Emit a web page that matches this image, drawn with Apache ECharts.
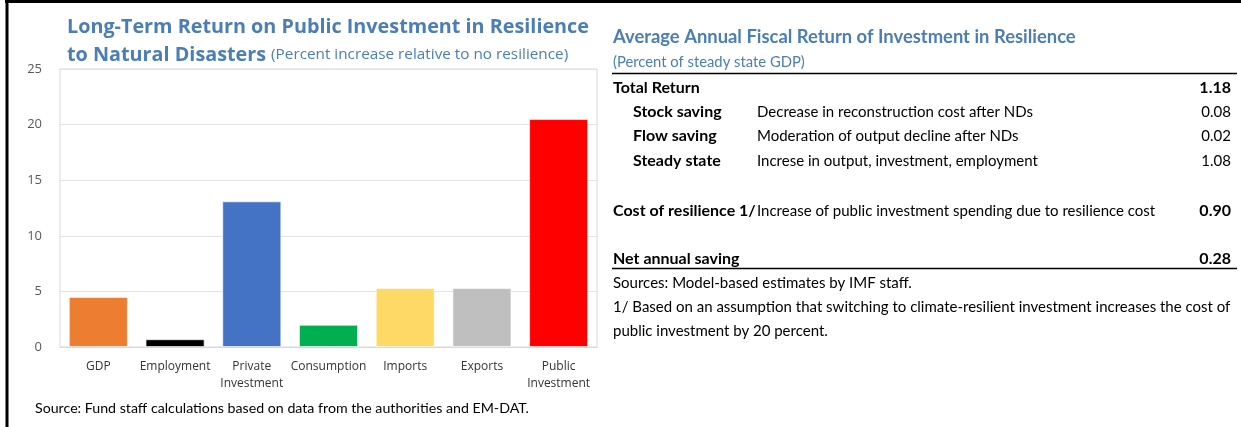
<!DOCTYPE html>
<html>
<head>
<meta charset="utf-8">
<script src="https://cdn.jsdelivr.net/npm/echarts@6/dist/echarts.min.js"></script>
<style>
  html, body { margin: 0; padding: 0; background: #fff; }
  #main { width: 1241px; height: 427px; }
</style>
</head>
<body>
<div id="main"></div>
<script>
// bar chart data
const categories = ['GDP', 'Employment', 'Private\nInvestment', 'Consumption', 'Imports', 'Exports', 'Public\nInvestment'];
const values = [4.5, 0.7, 13.1, 2.0, 5.3, 5.3, 20.5];

// table data
const rowLabels = ['Total Return', 'Stock saving', 'Flow saving', 'Steady state', 'Cost of resilience 1/', 'Net annual saving'];
const rowDescriptions = ['', 'Decrease in reconstruction cost after NDs', 'Moderation of output decline after NDs',
  'Increse in output, investment, employment', 'Increase of public investment spending due to resilience cost', ''];
const rowValues = ['1.18', '0.08', '0.02', '1.08', '0.90', '0.28'];
const tableNotes = ['Sources: Model-based estimates by IMF staff.',
  '1/ Based on an assumption that switching to climate-resilient investment increases the cost of',
  'public investment by 20 percent.'];

var chartDom = document.getElementById('main');
var myChart = echarts.init(chartDom);
var option;

const barColors = ['#ED7D31', '#000000', '#4472C4', '#00B050', '#FFD966', '#BFBFBF', '#FF0000'];
const blue = '#4a7eb5';

// layout of table rows
const rowY = [88, 112, 136, 161, 211, 259];
const rowX = [613, 633, 633, 633, 613, 613];
const rowBoldValue = [true, false, false, false, true, true];
const noteY = [283, 307, 331];

const graphics = [
  { type: 'line', shape: { x1: 5, y1: 1.5, x2: 1241, y2: 1.5 }, style: { stroke: '#000', lineWidth: 3 } },
  { type: 'line', shape: { x1: 7, y1: 0, x2: 7, y2: 427 }, style: { stroke: '#000', lineWidth: 3 } },
  { type: 'line', shape: { x1: 612, y1: 73.5, x2: 1237, y2: 73.5 }, style: { stroke: '#000', lineWidth: 1.5 } },
  { type: 'line', shape: { x1: 612, y1: 268.5, x2: 1237, y2: 268.5 }, style: { stroke: '#000', lineWidth: 1.5 } },
  {
    type: 'text', style: {
      text: 'Average Annual Fiscal Return of Investment in Resilience', x: 613, y: 37,
      textVerticalAlign: 'middle', fill: blue, font: 'bold 18.4px Lato'
    }
  },
  {
    type: 'text', style: {
      text: '(Percent of steady state GDP)', x: 613, y: 62,
      textVerticalAlign: 'middle', fill: blue, font: '14.8px Lato'
    }
  },
  {
    type: 'text', style: {
      text: 'Source: Fund staff calculations based on data from the authorities and EM-DAT.', x: 35, y: 408,
      textVerticalAlign: 'middle', fill: '#000', font: '14.2px Lato'
    }
  }
];

rowLabels.forEach(function (label, i) {
  graphics.push({ type: 'text', style: { text: label, x: rowX[i], y: rowY[i], textVerticalAlign: 'middle', fill: '#000', font: 'bold 16px Lato' } });
  if (rowDescriptions[i]) {
    graphics.push({ type: 'text', style: { text: rowDescriptions[i], x: 757, y: rowY[i], textVerticalAlign: 'middle', fill: '#000', font: '15px Lato' } });
  }
  graphics.push({
    type: 'text', style: {
      text: rowValues[i], x: 1231, y: rowY[i], textAlign: 'right', textVerticalAlign: 'middle', fill: '#000',
      font: (rowBoldValue[i] ? 'bold 16px' : '15px') + ' Lato'
    }
  });
});

tableNotes.forEach(function (note, i) {
  graphics.push({ type: 'text', style: { text: note, x: 613, y: noteY[i], textVerticalAlign: 'middle', fill: '#000', font: '15px Lato' } });
});

option = {
  animation: false,
  title: {
    left: 62,
    top: 8,
    text: '{a|Long-Term Return on Public Investment in Resilience}\n{a|to Natural Disasters} {b|(Percent increase relative to no resilience)}',
    textStyle: {
      rich: {
        a: { fontFamily: 'Open Sans', fontSize: 19.8, fontWeight: 'bold', color: blue, lineHeight: 28 },
        b: { fontFamily: 'Open Sans', fontSize: 15.3, fontWeight: 'normal', color: blue, lineHeight: 28 }
      }
    }
  },
  grid: {
    left: 60,
    top: 69,
    right: 644,
    bottom: 80,
    show: true,
    borderColor: '#d9d9d9',
    borderWidth: 1
  },
  xAxis: {
    type: 'category',
    data: categories,
    axisTick: { show: false },
    axisLine: { lineStyle: { color: '#d9d9d9' } },
    axisLabel: { color: '#333', fontFamily: 'Open Sans', fontSize: 12, margin: 11, lineHeight: 17, interval: 0 }
  },
  yAxis: {
    type: 'value',
    min: 0,
    max: 25,
    interval: 5,
    axisLabel: { color: '#595959', fontFamily: 'Open Sans', fontSize: 13, margin: 18 },
    splitLine: { lineStyle: { color: '#e3e3e3' } }
  },
  series: [
    {
      type: 'bar',
      data: values,
      barCategoryGap: '23%',
      itemStyle: {
        color: function (p) { return barColors[p.dataIndex]; },
        borderColor: 'rgba(255,255,255,0.6)',
        borderWidth: 1
      }
    }
  ],
  graphic: graphics
};

option && myChart.setOption(option);
</script>
</body>
</html>
